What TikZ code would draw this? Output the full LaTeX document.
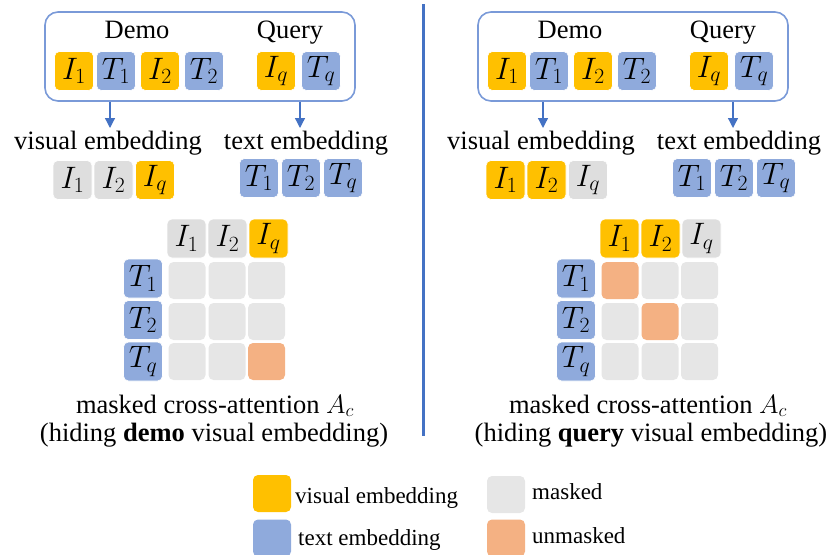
\RequirePackage{fix-cm}
\documentclass[tikz,border=0pt]{standalone}
\usepackage{fontspec}
\setmainfont{Liberation Serif}
\usetikzlibrary{arrows.meta}
\definecolor{cvis}{HTML}{FFC000}
\definecolor{ctxt}{HTML}{8FAADC}
\definecolor{cgray}{HTML}{DEDEDE}
\definecolor{ccell}{HTML}{E6E6E6}
\definecolor{corange}{HTML}{F4B183}
\definecolor{cboxline}{HTML}{7A9AD8}
\definecolor{carrow}{HTML}{4472C4}
\tikzset{
  x=1pt, y=-1pt,
  tile/.style={rounded corners=5pt, minimum width=39pt, minimum height=39pt, inner sep=0pt,
     draw=white, line width=0.6pt, font=\fontsize{31}{33}\selectfont},
  vis/.style={tile, fill=cvis},
  txt/.style={tile, fill=ctxt},
  gry/.style={tile, fill=cgray},
  cell/.style={rounded corners=5pt, minimum width=37pt, minimum height=37pt, inner sep=0pt, fill=ccell},
  ocell/.style={cell, fill=corange},
  lbl/.style={inner sep=0pt, anchor=base, font=\fontsize{26.5}{30}\selectfont},
  leglbl/.style={inner sep=0pt, anchor=base west, font=\fontsize{23}{26}\selectfont},
  legsq/.style={rounded corners=5pt, minimum width=38pt, minimum height=37pt, inner sep=0pt},
  panelbox/.style={draw=cboxline, line width=1.6pt, rounded corners=13pt, minimum width=310pt, minimum height=89pt},
  arr/.style={draw=carrow, line width=1.3pt, -{Triangle[width=10pt,length=10pt]}},
}
\begin{document}
\begin{tikzpicture}
\useasboundingbox (0,0) rectangle (834,554);
% divider
\node[inner sep=0pt, minimum width=3pt, minimum height=432pt, fill=carrow] (div) at (423,220) {};

% ===== LEFT PANEL =====
\node[panelbox] (Lbox) at (200,56.5) {};
\node[lbl] (Ldemo) at (137,38) {Demo};
\node[lbl] (Lquery) at (290,38) {Query};
\node[vis] (LtI1) at (74,71) {$I_1$};
\node[txt] (LtT1) at (116,71) {$T_1$};
\node[vis] (LtI2) at (160,71) {$I_2$};
\node[txt] (LtT2) at (204,71) {$T_2$};
\node[vis] (LtIq) at (276,71) {$I_q$};
\node[txt] (LtTq) at (321,71) {$T_q$};
\coordinate (Lva) at (110,128);
\coordinate (Lta) at (300,128);
\draw[arr] (Lbox.south -| Lva) -- (Lva);
\draw[arr] (Lbox.south -| Lta) -- (Lta);
\node[lbl] (Lvl) at (108,149) {visual embedding};
\node[lbl] (Ltl) at (306,149) {text embedding};
\node[gry] (LvI1) at (72.5,180) {$I_1$};
\node[gry] (LvI2) at (113.5,180) {$I_2$};
\node[vis] (LvIq) at (155,180) {$I_q$};
\node[txt] (LxT1) at (259,178) {$T_1$};
\node[txt] (LxT2) at (301,178) {$T_2$};
\node[txt] (LxTq) at (343,178) {$T_q$};
% matrix
\node[gry] (LhI1) at (186.5,238.5) {$I_1$};
\node[gry] (LhI2) at (227.5,238.5) {$I_2$};
\node[vis] (LhIq) at (268.5,238.5) {$I_q$};
\node[txt] (LrT1) at (143,278.5) {$T_1$};
\node[txt] (LrT2) at (143,320) {$T_2$};
\node[txt] (LrTq) at (143,361.5) {$T_q$};
\node[cell] (Lc11) at (187,280.5) {};
\node[cell] (Lc12) at (227,280.5) {};
\node[cell] (Lc13) at (266.5,280.5) {};
\node[cell] (Lc21) at (187,321.5) {};
\node[cell] (Lc22) at (227,321.5) {};
\node[cell] (Lc23) at (266.5,321.5) {};
\node[cell] (Lc31) at (187,361.5) {};
\node[cell] (Lc32) at (227,361.5) {};
\node[ocell] (Lc33) at (266.5,361.5) {};
\node[lbl] (Lcap1) at (215,413) {masked cross-attention $A_c$};
\node[lbl] (Lcap2) at (214,441) {(hiding \textbf{demo} visual embedding)};

% ===== RIGHT PANEL =====
\node[panelbox] (Rbox) at (633,56.5) {};
\node[lbl] (Rdemo) at (570,38) {Demo};
\node[lbl] (Rquery) at (723,38) {Query};
\node[vis] (RtI1) at (507,71) {$I_1$};
\node[txt] (RtT1) at (549,71) {$T_1$};
\node[vis] (RtI2) at (593,71) {$I_2$};
\node[txt] (RtT2) at (637,71) {$T_2$};
\node[vis] (RtIq) at (709,71) {$I_q$};
\node[txt] (RtTq) at (754,71) {$T_q$};
\coordinate (Rva) at (543,128);
\coordinate (Rta) at (733,128);
\draw[arr] (Rbox.south -| Rva) -- (Rva);
\draw[arr] (Rbox.south -| Rta) -- (Rta);
\node[lbl] (Rvl) at (541,149) {visual embedding};
\node[lbl] (Rtl) at (739,149) {text embedding};
\node[vis] (RvI1) at (505.5,180) {$I_1$};
\node[vis] (RvI2) at (546.5,180) {$I_2$};
\node[gry] (RvIq) at (588,180) {$I_q$};
\node[txt] (RxT1) at (692,178) {$T_1$};
\node[txt] (RxT2) at (734,178) {$T_2$};
\node[txt] (RxTq) at (776,178) {$T_q$};
% matrix
\node[vis] (RhI1) at (619.5,238.5) {$I_1$};
\node[vis] (RhI2) at (660.5,238.5) {$I_2$};
\node[gry] (RhIq) at (701.5,238.5) {$I_q$};
\node[txt] (RrT1) at (576,278.5) {$T_1$};
\node[txt] (RrT2) at (576,320) {$T_2$};
\node[txt] (RrTq) at (576,361.5) {$T_q$};
\node[ocell] (Rc11) at (620,280.5) {};
\node[cell] (Rc12) at (660,280.5) {};
\node[cell] (Rc13) at (699.5,280.5) {};
\node[cell] (Rc21) at (620,321.5) {};
\node[ocell] (Rc22) at (660,321.5) {};
\node[cell] (Rc23) at (699.5,321.5) {};
\node[cell] (Rc31) at (620,361.5) {};
\node[cell] (Rc32) at (660,361.5) {};
\node[cell] (Rc33) at (699.5,361.5) {};
\node[lbl] (Rcap1) at (648,413) {masked cross-attention $A_c$};
\node[lbl] (Rcap2) at (651,441) {(hiding \textbf{query} visual embedding)};

% ===== LEGEND =====
\node[legsq, fill=cvis] (gvis) at (272,493.5) {};
\node[legsq, fill=ctxt] (gtxt) at (272,538) {};
\node[legsq, fill=ccell] (gmask) at (506,494.5) {};
\node[legsq, fill=corange] (gun) at (506,538) {};
\node[leglbl] (gvisl) at (295,503) {visual embedding};
\node[leglbl] (gtxtl) at (298,545) {text embedding};
\node[leglbl] (gmaskl) at (532,499) {masked};
\node[leglbl] (gunl) at (532,543) {unmasked};
\end{tikzpicture}
\end{document}
